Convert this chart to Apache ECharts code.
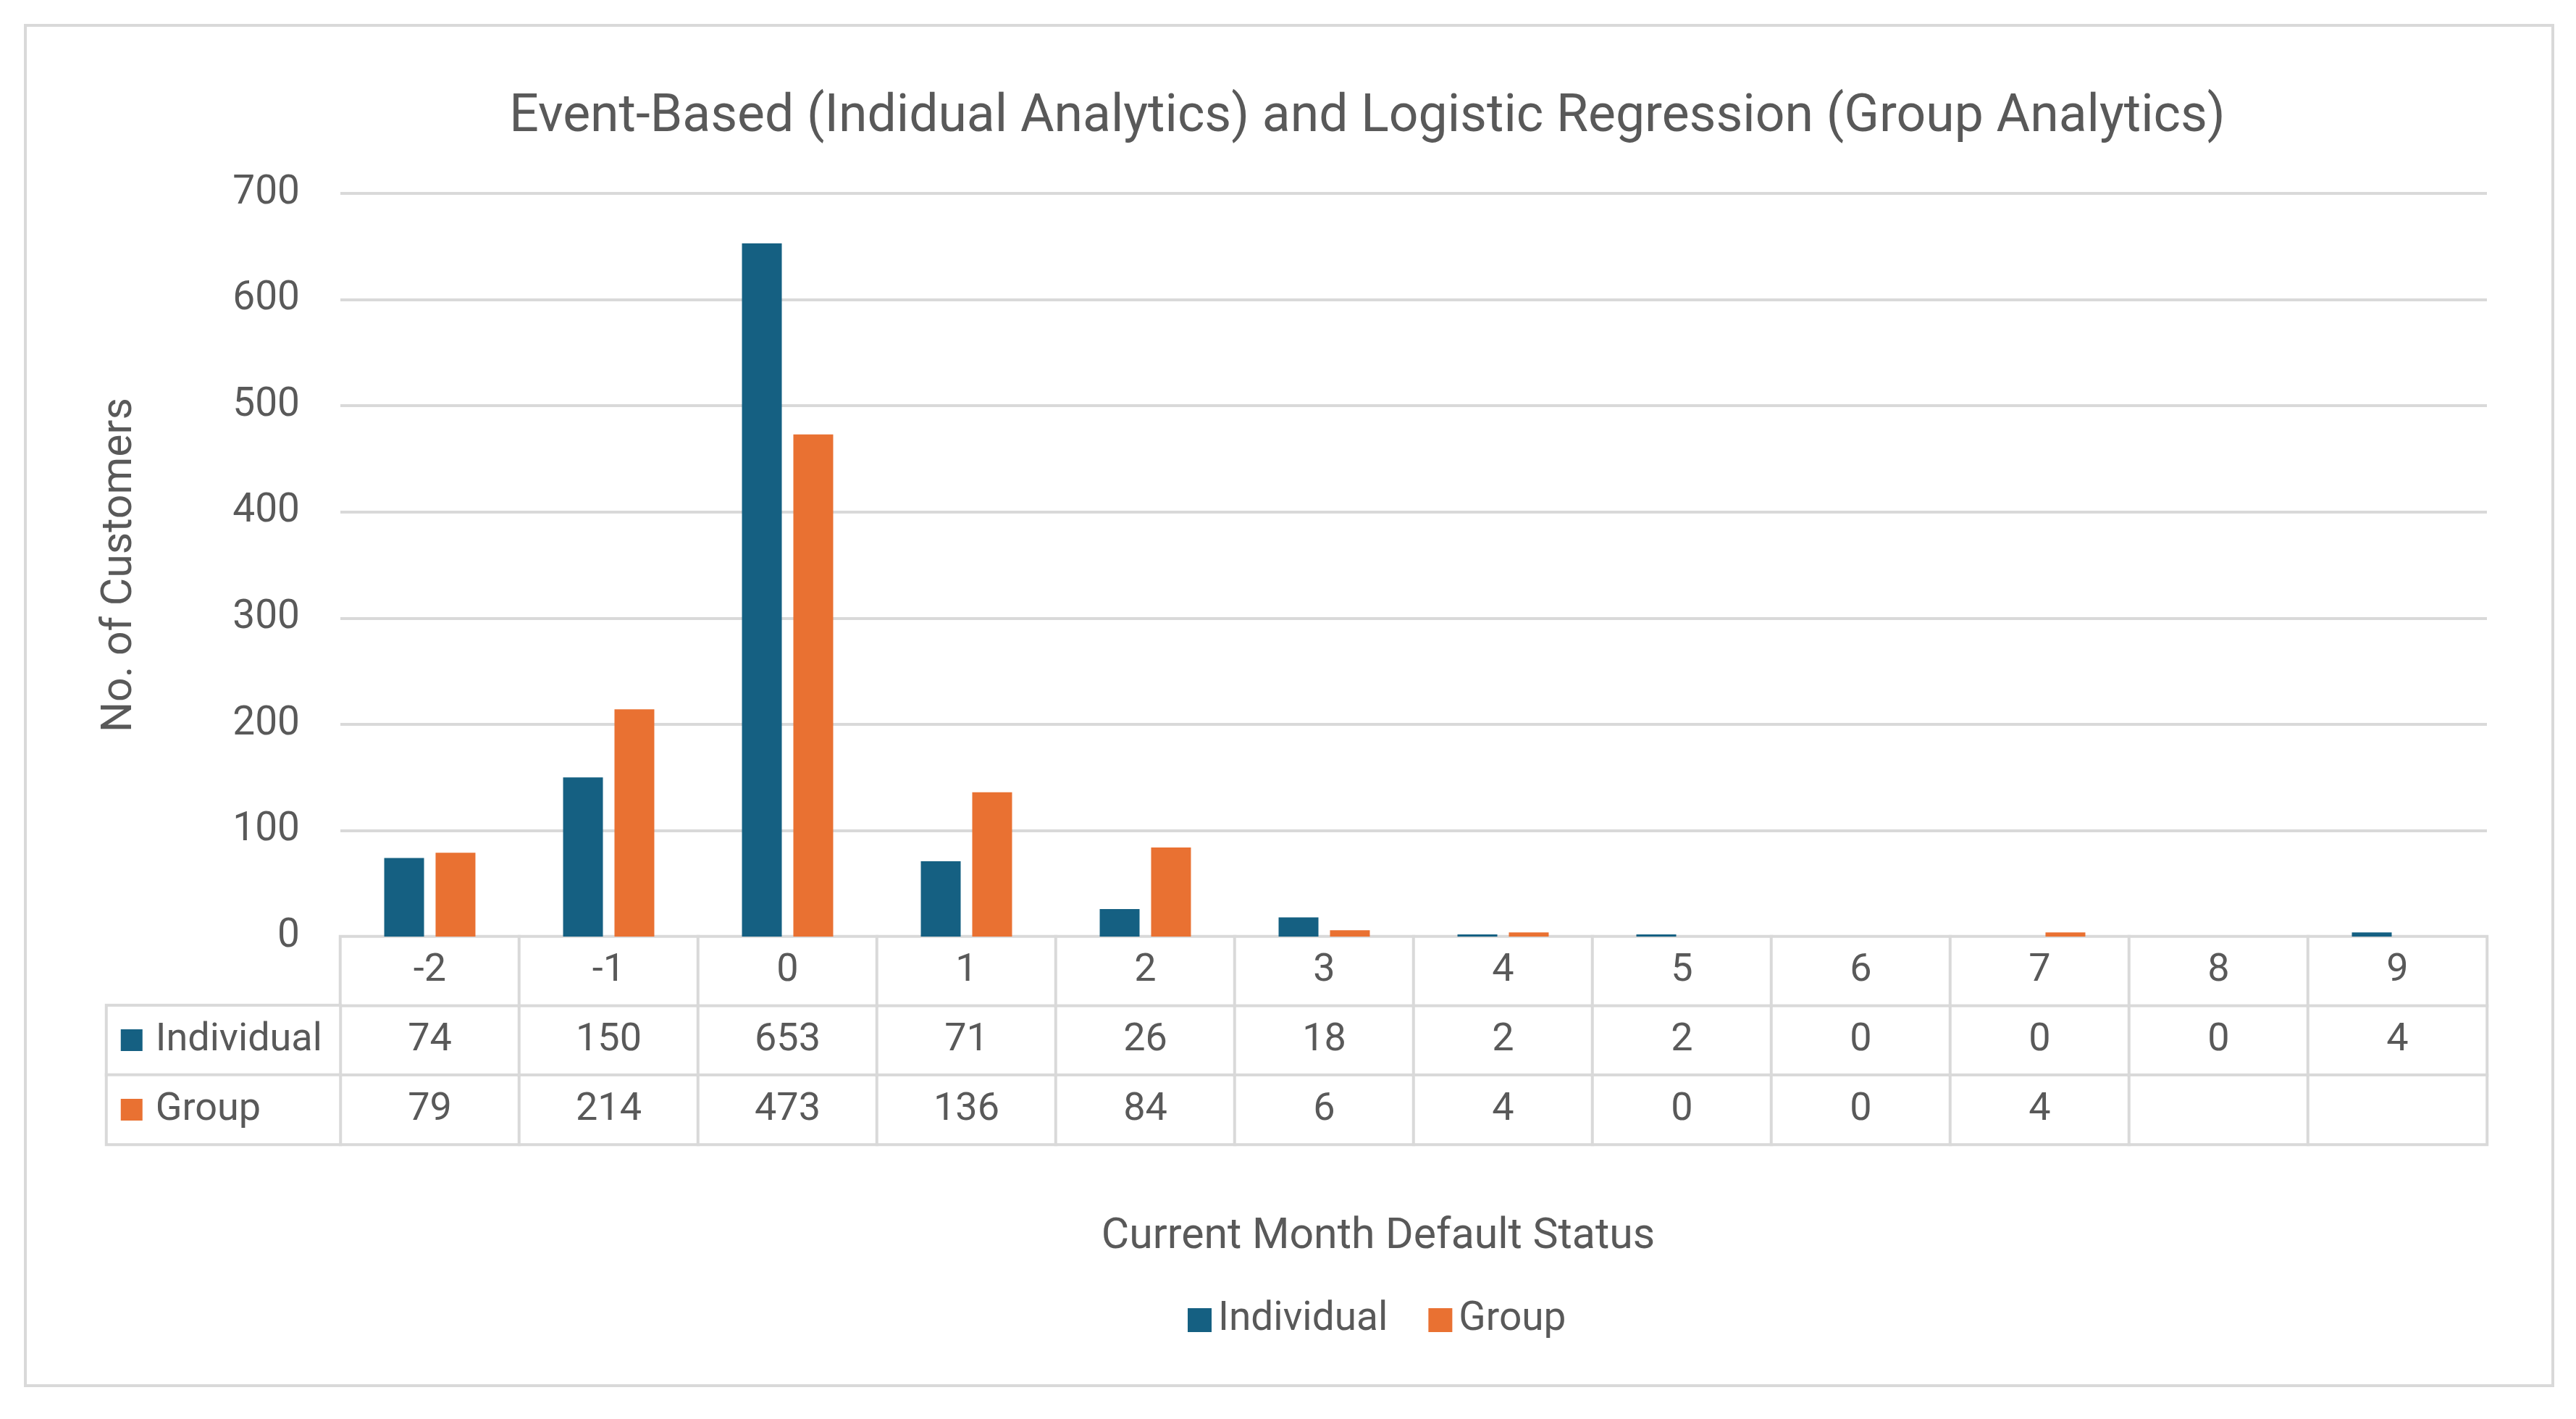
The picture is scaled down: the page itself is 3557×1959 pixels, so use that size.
<!DOCTYPE html>
<html>
<head>
<meta charset="utf-8">
<script src="https://cdn.jsdelivr.net/npm/echarts@6/dist/echarts.min.js"></script>
<style>
html,body{margin:0;padding:0;background:#fff;}
#c{width:3557px;height:1959px;}
</style>
</head>
<body>
<div id="c"></div>
<script>
// ---- data ----
const categories = ['-2','-1','0','1','2','3','4','5','6','7','8','9'];
const individual = [74,150,653,71,26,18,2,2,0,0,0,4];
const group = [79,214,473,136,84,6,4,0,0,4,null,null];
const seriesNames = ['Individual','Group'];
const yTicks = [0,100,200,300,400,500,600,700];

const titleText = 'Event-Based (Indidual Analytics) and Logistic Regression (Group Analytics)';
const xTitle = 'Current Month Default Status';
const yTitle = 'No. of Customers';

const colors = ['#156082','#E97132'];
const txt = '#595959';
const lineCol = '#d9d9d9';
const FONT = 'Roboto, "Liberation Sans", sans-serif';

// table cells built from arrays
const tableRows = ['header','Individual','Group'];
const tableCells = [];
categories.forEach((c,i)=>{ for(let r=0;r<3;r++) tableCells.push([i,r,1]); });
function cellText(i,r){
  if(r===0) return categories[i];
  const v = r===1 ? individual[i] : group[i];
  return v==null ? '' : String(v);
}

const chart = echarts.init(document.getElementById('c'), null, {renderer:'canvas'});
chart.setOption({
  backgroundColor:'#fff',
  animation:false,
  color: colors,
  title:[
    {text:titleText, left:1883, top:122, textAlign:'center',
     textStyle:{color:txt, fontSize:71.5, fontWeight:'normal', fontFamily:FONT}},
    {text:xTitle, left:1898, top:1674, textAlign:'center',
     textStyle:{color:txt, fontSize:59, fontWeight:'normal', fontFamily:FONT}}
  ],
  legend:{
    data:seriesNames, left:1635, top:1790, itemWidth:33, itemHeight:33, itemGap:56,
    icon:'rect',
    textStyle:{color:txt, fontSize:55, fontFamily:FONT, padding:[0,0,0,4]}
  },
  graphic:[{type:'rect', shape:{x:35,y:35,width:3490,height:1878},
    style:{fill:null, stroke:lineCol, lineWidth:4}, silent:true, z:-1}],
  grid:[
    {left:470, right:123, top:267, height:1026},
    {left:470, right:123, top:1293, height:287},
    {left:147, width:323, top:1388, height:192}
  ],
  xAxis:[
    {type:'category', gridIndex:0, data:categories,
     axisLine:{show:true, lineStyle:{color:lineCol, width:4}},
     axisTick:{show:false}, axisLabel:{show:false}},
    {type:'category', gridIndex:1, data:categories, show:false},
    {type:'category', gridIndex:2, data:['key'], show:false}
  ],
  yAxis:[
    {type:'value', gridIndex:0, min:0, max:700, interval:100,
     name:yTitle, nameLocation:'middle', nameGap:274, nameRotate:90,
     nameTextStyle:{color:txt, fontSize:59, fontFamily:FONT},
     axisLine:{show:false}, axisTick:{show:false},
     axisLabel:{color:txt, fontSize:55, fontFamily:FONT, margin:56,
       formatter:(v)=> yTicks.includes(v) ? String(v) : ''},
     splitLine:{lineStyle:{color:lineCol, width:4}}},
    {type:'category', gridIndex:1, data:tableRows, inverse:true, show:false},
    {type:'category', gridIndex:2, data:seriesNames, inverse:true, show:false}
  ],
  series:[
    {name:seriesNames[0], type:'bar', xAxisIndex:0, yAxisIndex:0, data:individual,
     barWidth:55, barGap:'29%', itemStyle:{color:colors[0]}},
    {name:seriesNames[1], type:'bar', xAxisIndex:0, yAxisIndex:0, data:group,
     barWidth:55, barGap:'29%', itemStyle:{color:colors[1]}},
    {name:'table', type:'heatmap', xAxisIndex:1, yAxisIndex:1, data:tableCells,
     itemStyle:{color:'#ffffff', borderColor:lineCol, borderWidth:4},
     label:{show:true, color:txt, fontSize:54, fontFamily:FONT,
       formatter:(p)=>cellText(p.data[0], p.data[1])},
     emphasis:{disabled:true}},
    {name:'key', type:'heatmap', xAxisIndex:2, yAxisIndex:2,
     data:[[0,0,1],[0,1,1]],
     itemStyle:{color:'#ffffff', borderColor:lineCol, borderWidth:4},
     label:{show:true, position:'insideLeft', distance:22, color:txt, fontSize:54, fontFamily:FONT,
       formatter:(p)=> '{s' + p.data[1] + '|}{t|' + seriesNames[p.data[1]] + '}',
       rich:{
         s0:{width:30, height:30, backgroundColor:colors[0]},
         s1:{width:30, height:30, backgroundColor:colors[1]},
         t:{color:txt, fontSize:54, fontFamily:FONT, padding:[0,0,0,18]}
       }},
     emphasis:{disabled:true}}
  ]
});
</script>
</body>
</html>
